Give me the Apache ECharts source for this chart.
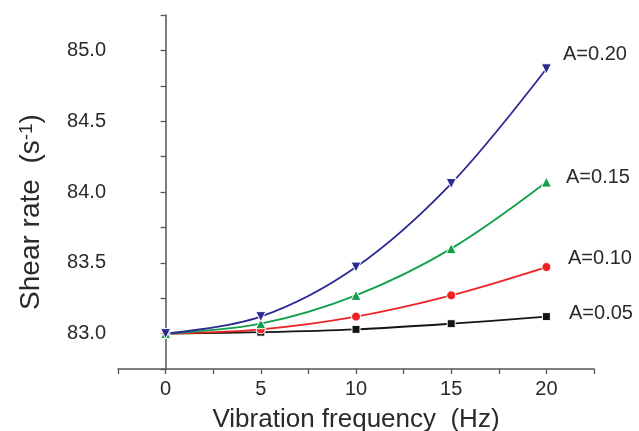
<!DOCTYPE html>
<html>
<head>
<meta charset="utf-8">
<script src="https://cdn.jsdelivr.net/npm/echarts@6/dist/echarts.min.js"></script>
<style>
html,body{margin:0;padding:0;background:#fff;}
#main{width:639px;height:431px;}
</style>
</head>
<body>
<div id="main"></div>
<script>
// Data
var frequencies = [0, 5, 10, 15, 20];
var shearA005 = [83.00, 83.01, 83.03, 83.07, 83.12];
var shearA010 = [83.00, 83.03, 83.12, 83.27, 83.47];
var shearA015 = [83.00, 83.07, 83.27, 83.60, 84.07];
var shearA020 = [83.00, 83.12, 83.47, 84.06, 84.87];
var seriesNames = ['A=0.05', 'A=0.10', 'A=0.15', 'A=0.20'];
var xMajorTicks = [0, 5, 10, 15, 20];
var yMajorTicks = [83.0, 83.5, 84.0, 84.5, 85.0];

function pairs(ys) { return frequencies.map(function (x, i) { return [x, ys[i]]; }); }

var font = '"Liberation Sans", Arial, Helvetica, sans-serif';
var txt = '#2a2a2a';
var axisCol = '#555555';

function isMajor(v, list) {
  for (var i = 0; i < list.length; i++) if (Math.abs(v - list[i]) < 1e-6) return true;
  return false;
}

function mk(name, data, color, symbol, size, rotate) {
  return {
    name: name,
    type: 'line',
    data: pairs(data),
    smooth: 0.35,
    symbol: symbol,
    symbolSize: size,
    symbolRotate: rotate || 0,
    showAllSymbol: true,
    lineStyle: { color: color, width: 1.8 },
    itemStyle: { color: color, borderColor: '#ffffff', borderWidth: 1 },
    z: 3
  };
}

var chart = echarts.init(document.getElementById('main'), null, { renderer: 'canvas' });
chart.setOption({
  animation: false,
  backgroundColor: '#ffffff',
  grid: { left: 118, top: 15, right: 45, bottom: 62, containLabel: false, outerBoundsMode: 'none' },
  xAxis: {
    type: 'value',
    min: -2.5, max: 22.5, interval: 2.5,
    name: 'Vibration frequency  (Hz)',
    nameLocation: 'middle',
    nameGap: 38,
    nameTextStyle: { fontFamily: font, fontSize: 26, color: txt },
    axisLine: { show: true, lineStyle: { color: axisCol, width: 1.5 } },
    axisTick: { show: true, inside: false, length: 5, lineStyle: { color: axisCol, width: 1.3 } },
    axisLabel: {
      margin: 10, fontFamily: font, fontSize: 20, color: txt, showMinLabel: true, showMaxLabel: true,
      formatter: function (v) { return isMajor(v, xMajorTicks) ? String(v) : ''; }
    },
    splitLine: { show: false }
  },
  yAxis: {
    type: 'value',
    min: 82.75, max: 85.25, interval: 0.25,
    name: 'Shear rate  (s{sup|-1})',
    nameLocation: 'middle',
    nameGap: 72,
    nameRotate: 90,
    nameTextStyle: {
      fontFamily: font, fontSize: 28, color: txt, padding: [0, 40, 0, 0],
      rich: { sup: { fontFamily: font, fontSize: 19, color: txt, verticalAlign: 'top', padding: [0, 0, 10, 0] } }
    },
    axisLine: { show: true, lineStyle: { color: axisCol, width: 1.5 } },
    axisTick: { show: true, inside: false, length: 5, lineStyle: { color: axisCol, width: 1.3 } },
    axisLabel: {
      margin: 12, fontFamily: font, fontSize: 20, color: txt,
      formatter: function (v) { return isMajor(v, yMajorTicks) ? v.toFixed(1) : ''; }
    },
    splitLine: { show: false }
  },
  series: [
    mk(seriesNames[0], shearA005, '#141414', 'rect', 8),
    mk(seriesNames[1], shearA010, '#ee2224', 'circle', 9),
    mk(seriesNames[2], shearA015, '#10a04c', 'triangle', 10),
    mk(seriesNames[3], shearA020, '#2a2a92', 'triangle', 10, 180)
  ],
  graphic: [
    { type: 'text', left: 563, top: 44, style: { text: seriesNames[3], font: '20px ' + font, fill: txt } },
    { type: 'text', left: 566, top: 167, style: { text: seriesNames[2], font: '20px ' + font, fill: txt } },
    { type: 'text', left: 568, top: 248, style: { text: seriesNames[1], font: '20px ' + font, fill: txt } },
    { type: 'text', left: 569, top: 303, style: { text: seriesNames[0], font: '20px ' + font, fill: txt } }
  ]
});
</script>
</body>
</html>
